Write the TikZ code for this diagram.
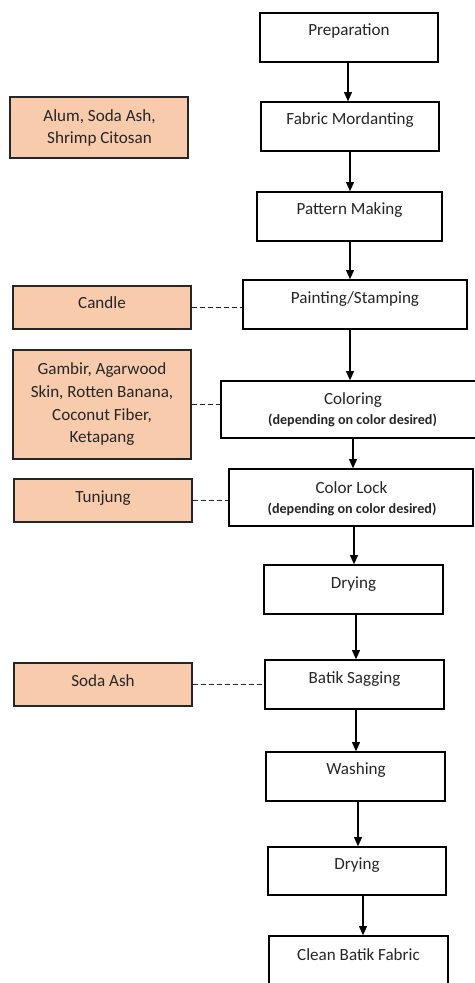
\documentclass[tikz,border=0pt]{standalone}
\usepackage{fontspec}
\setmainfont{Carlito}
\usetikzlibrary{arrows.meta}
\definecolor{peach}{HTML}{F8CBAD}
\definecolor{ink}{HTML}{262626}
\begin{document}
\begin{tikzpicture}[x=0.75pt,y=-0.75pt,
  wh/.style 2 args={minimum width=#1*0.75pt, minimum height=#2*0.75pt},
  stepbox/.style={draw=black, line width=1pt, fill=white, inner sep=0pt},
  sidebox/.style={draw=ink, line width=1pt, fill=peach, inner sep=0pt},
  steptitle/.style={font=\fontsize{12.8}{17}\selectfont, text=ink, inner sep=0pt, anchor=base},
  subtxt/.style={font=\fontsize{10.6}{13}\selectfont\bfseries, text=ink, inner sep=0pt, anchor=base},
  sidetxt/.style={font=\fontsize{12.8}{17}\selectfont, text=ink, align=center, inner sep=0pt},
  arr/.style={draw=black, line width=1pt, -{Triangle[width=6pt,length=7pt]}},
  link/.style={draw=ink, line width=0.9pt, dash pattern=on 3.75pt off 2.25pt}]
\useasboundingbox (0,0) rectangle (475,983);
\clip (0,0) rectangle (475,983);
% main process boxes
\node[stepbox, wh={178}{49}] (prep)  at (349,37.5) {};
\node[stepbox, wh={178}{49}] (mord)  at (350,126.5) {};
\node[stepbox, wh={185}{49}] (pat)   at (349.5,216.5) {};
\node[stepbox, wh={224}{49}] (paint) at (355,304.5) {};
\node[stepbox, wh={266}{57}] (color) at (354,409.5) {};
\node[stepbox, wh={244}{57}] (lock)  at (351,497.5) {};
\node[stepbox, wh={179}{49}] (dryA)  at (353.5,589.5) {};
\node[stepbox, wh={179}{49}] (batik) at (354.5,684.5) {};
\node[stepbox, wh={179}{49}] (wash)  at (355.5,776.5) {};
\node[stepbox, wh={178}{48}] (dryB)  at (357,871) {};
\node[stepbox, wh={179}{50}] (clean) at (358.5,961) {};
% titles
\node[steptitle] (tprep)  at (349,35) {Preparation};
\node[steptitle] (tmord)  at (350,124) {Fabric Mordanting};
\node[steptitle] (tpat)   at (349.5,214) {Pattern Making};
\node[steptitle] (tpaint) at (355,303) {Painting/Stamping};
\node[steptitle] (tcolor) at (353,404) {Coloring};
\node[subtxt]    (scolor) at (352.5,424) {(depending on color desired)};
\node[steptitle] (tlock)  at (351.5,493) {Color Lock};
\node[subtxt]    (slock)  at (352,513) {(depending on color desired)};
\node[steptitle] (tdryA)  at (353.5,588) {Drying};
\node[steptitle] (tbatik) at (354.5,683) {Batik Sagging};
\node[steptitle] (twash)  at (356,774) {Washing};
\node[steptitle] (tdryB)  at (357,869) {Drying};
\node[steptitle] (tclean) at (358.5,960) {Clean Batik Fabric};
% side material boxes
\node[sidebox, wh={178}{61}]  (alum)    at (99,127.5) {};
\node[sidebox, wh={178}{43}]  (candle)  at (102,307.5) {};
\node[sidebox, wh={178}{109}] (gambir)  at (102,404.5) {};
\node[sidebox, wh={178}{43}]  (tunjung) at (103,500.5) {};
\node[sidebox, wh={178}{43}]  (soda)    at (103,684.5) {};
\node[sidetxt] (talum) at (99.5,128) {Alum, Soda Ash,\\Shrimp Citosan};
\node[sidetxt, anchor=base] (tcandle) at (102,308) {Candle};
\node[sidetxt] (tgambir) at (102,404.5) {Gambir, Agarwood\\Skin, Rotten Banana,\\Coconut Fiber,\\Ketapang};
\node[sidetxt, anchor=base] (ttunjung) at (103,502) {Tunjung};
\node[sidetxt, anchor=base] (tsoda) at (103,686) {Soda Ash};
% arrow x positions
\coordinate (x1) at (348,0);
\coordinate (x2) at (350,0);
\coordinate (x3) at (350,0);
\coordinate (x4) at (350,0);
\coordinate (x5) at (353,0);
\coordinate (x6) at (354,0);
\coordinate (x7) at (356,0);
\coordinate (x8) at (356,0);
\coordinate (x9) at (358,0);
\coordinate (x10) at (363,0);
\draw[arr] (prep.south -| x1) -- (mord.north -| x1);
\draw[arr] (mord.south -| x2) -- (pat.north -| x2);
\draw[arr] (pat.south -| x3) -- (paint.north -| x3);
\draw[arr] (paint.south -| x4) -- (color.north -| x4);
\draw[arr] (color.south -| x5) -- (lock.north -| x5);
\draw[arr] (lock.south -| x6) -- (dryA.north -| x6);
\draw[arr] (dryA.south -| x7) -- (batik.north -| x7);
\draw[arr] (batik.south -| x8) -- (wash.north -| x8);
\draw[arr] (wash.south -| x9) -- (dryB.north -| x9);
\draw[arr] (dryB.south -| x10) -- (clean.north -| x10);
% dashed links
\draw[link] (candle.east) -- (candle.east -| paint.west);
\draw[link] (gambir.east) -- (gambir.east -| color.west);
\draw[link] (tunjung.east) -- (tunjung.east -| lock.west);
\draw[link] (soda.east) -- (soda.east -| batik.west);
\end{tikzpicture}
\end{document}
